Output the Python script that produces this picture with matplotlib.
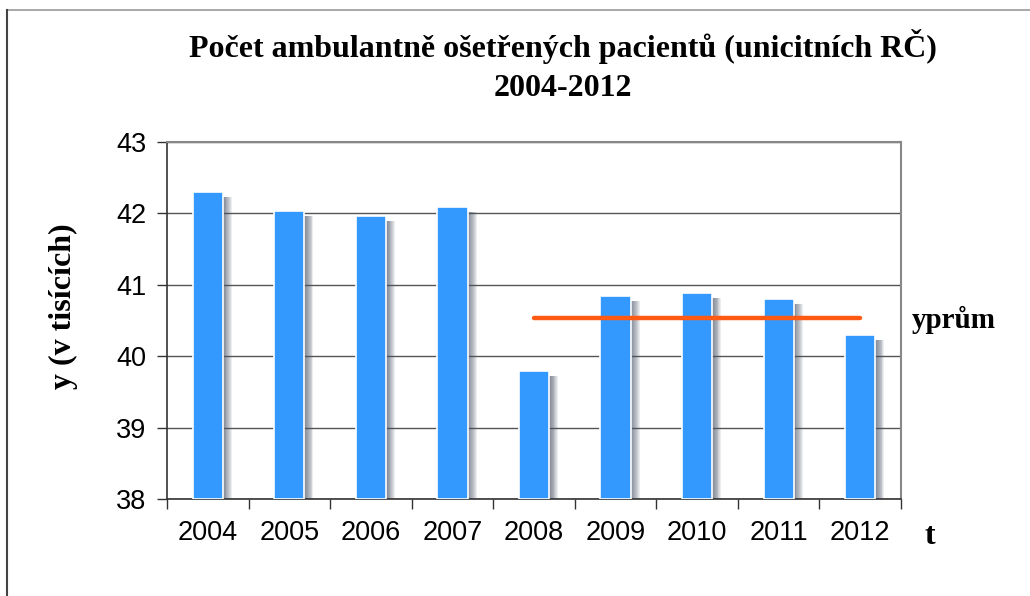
import matplotlib
matplotlib.use("Agg")
import matplotlib.pyplot as plt
from matplotlib.lines import Line2D
import numpy as np

years = ["2004", "2005", "2006", "2007", "2008", "2009", "2010", "2011", "2012"]
values = [42.30, 42.03, 41.97, 42.09, 39.79, 40.85, 40.88, 40.80, 40.30]
avg_years = ["2008", "2009", "2010", "2011", "2012"]
avg_value = 40.53
yticks = [38, 39, 40, 41, 42, 43]

W, H = 1030, 596
fig = plt.figure(figsize=(W / 100, H / 100), dpi=100)
ax = fig.add_axes([167 / W, 1 - 499 / H, (901 - 167) / W, (499 - 142) / H])

x = np.arange(len(years)) + 0.5
bw = 0.37
# soft shadow to the right of each bar
for k in range(10):
    off = 0.011 * (k + 1)
    ax.bar(x + off, np.array(values) - 38 - 0.07, bottom=38, width=bw,
           color="#4a5468", alpha=0.1, linewidth=0, zorder=2)
ax.bar(x, np.array(values) - 38, bottom=38, width=bw, color="#3399FF",
       edgecolor="white", linewidth=1.2, zorder=3)

# average line
ax_idx = [years.index(y) + 0.5 for y in avg_years]
ax.plot([ax_idx[0], ax_idx[-1]], [avg_value, avg_value], color="#FF5A14",
        linewidth=3.2, solid_capstyle="round", zorder=4)

ax.set_xlim(0, len(years))
ax.set_ylim(38, 43)
ax.set_yticks(yticks)
ax.set_yticklabels([str(v) for v in yticks], fontfamily="Liberation Sans", fontsize=19.5)
ax.set_xticks(np.arange(len(years) + 1))
ax.set_xticklabels([])
ax.set_xticks(x, minor=True)
ax.set_xticklabels(years, minor=True, fontfamily="Liberation Sans", fontsize=19.5)
ax.tick_params(axis="x", which="minor", length=0, pad=15)
ax.tick_params(axis="x", which="major", length=7, width=1, color="#333333", direction="out")
ax.tick_params(axis="y", length=7, width=1, color="#333333", direction="out", pad=8)
ax.yaxis.grid(True, color="#555555", linewidth=1, zorder=1)
ax.set_axisbelow(True)
for s in ["left", "bottom"]:
    ax.spines[s].set_color("#333333")
    ax.spines[s].set_linewidth(1.2)
for s in ["top", "right"]:
    ax.spines[s].set_color("#888888")
    ax.spines[s].set_linewidth(1.5)

fig.text(563 / W, 1 - 47 / H, "Počet ambulantně ošetřených pacientů (unicitních RČ)",
         ha="center", va="center", fontfamily="Liberation Serif", fontweight="bold", fontsize=23)
fig.text(563 / W, 1 - 88 / H, "2004-2012",
         ha="center", va="center", fontfamily="Liberation Serif", fontweight="bold", fontsize=23)
fig.text(63 / W, 1 - 306 / H, "y (v tisících)", rotation=90, ha="center", va="center",
         fontfamily="Liberation Serif", fontweight="bold", fontsize=23)
fig.text(912 / W, 1 - 320 / H, "yprům", ha="left", va="center",
         fontfamily="Liberation Serif", fontweight="bold", fontsize=21)
fig.text(930 / W, 1 - 536 / H, "t", ha="center", va="center",
         fontfamily="Liberation Serif", fontweight="bold", fontsize=23)

# outer frame (top and left edges)
fig.add_artist(Line2D([7 / W, 1.0], [1 - 10 / H, 1 - 10 / H], color="#999999", linewidth=1.2,
                      transform=fig.transFigure))
fig.add_artist(Line2D([7 / W, 7 / W], [0, 1 - 10 / H], color="#444444", linewidth=1.5,
                      transform=fig.transFigure))

fig.savefig("out.png", dpi=100)
